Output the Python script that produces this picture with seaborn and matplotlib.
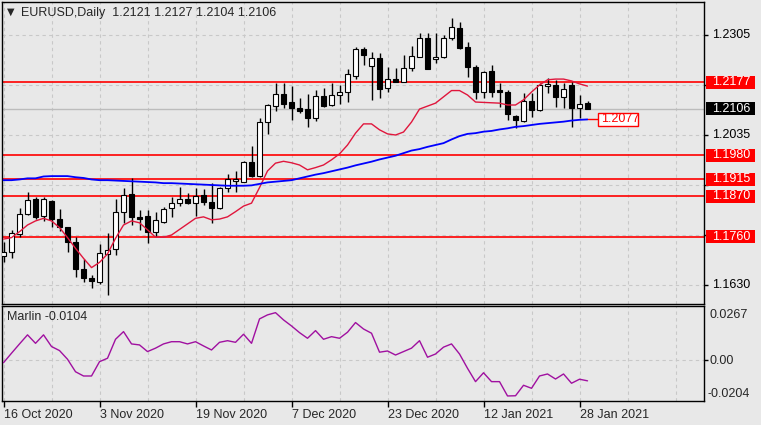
import matplotlib
matplotlib.use('Agg')
import matplotlib.pyplot as plt
import matplotlib.transforms as mtransforms
from matplotlib.patches import Rectangle
import seaborn as sns
import pandas as pd

# daily EURUSD bars, 16 Oct 2020 .. 29 Jan 2021
opens = [1.1708, 1.1718, 1.1768, 1.1821, 1.1862, 1.1817, 1.1857, 1.1807, 1.1786, 1.1747,
         1.1672, 1.1649, 1.1639, 1.1713, 1.1726, 1.1826, 1.1876, 1.1813, 1.1816, 1.1774,
         1.1801, 1.1837, 1.1851, 1.1862, 1.1852, 1.1873, 1.1853, 1.1837, 1.1891, 1.1912,
         1.1909, 1.1961, 1.1925, 1.2069, 1.2114, 1.2145, 1.2125, 1.2107, 1.2104, 1.2080,
         1.2140, 1.2116, 1.2143, 1.2150, 1.2195, 1.2267, 1.2222, 1.2242, 1.2161, 1.2185,
         1.2179, 1.2215, 1.2246, 1.2296, 1.2239, 1.2246, 1.2296, 1.2323, 1.2272, 1.2218,
         1.2150, 1.2209, 1.2157, 1.2152, 1.2086, 1.2074, 1.2128, 1.2103, 1.2167, 1.2170,
         1.2138, 1.2170, 1.2107, 1.2121]
highs = [1.1747, 1.1779, 1.1839, 1.1880, 1.1868, 1.1867, 1.1860, 1.1834, 1.1787, 1.1759,
         1.1699, 1.1658, 1.1740, 1.1771, 1.1861, 1.1893, 1.1918, 1.1832, 1.1832, 1.1828,
         1.1841, 1.1868, 1.1894, 1.1878, 1.1891, 1.1888, 1.1905, 1.1895, 1.1930, 1.1939,
         1.1965, 1.2005, 1.2080, 1.2119, 1.2176, 1.2175, 1.2167, 1.2134, 1.2145, 1.2157,
         1.2161, 1.2175, 1.2170, 1.2213, 1.2273, 1.2273, 1.2259, 1.2256, 1.2219, 1.2215,
         1.2251, 1.2276, 1.2311, 1.2310, 1.2310, 1.2305, 1.2352, 1.2339, 1.2287, 1.2224,
         1.2209, 1.2224, 1.2176, 1.2157, 1.2089, 1.2148, 1.2148, 1.2175, 1.2188, 1.2184,
         1.2176, 1.2179, 1.2143, 1.2127]
lows = [1.1693, 1.1702, 1.1760, 1.1819, 1.1807, 1.1804, 1.1787, 1.1777, 1.1720, 1.1651,
        1.1639, 1.1621, 1.1632, 1.1603, 1.1711, 1.1797, 1.1792, 1.1779, 1.1744, 1.1762,
        1.1797, 1.1814, 1.1843, 1.1849, 1.1816, 1.1846, 1.1797, 1.1834, 1.1882, 1.1882,
        1.1907, 1.1922, 1.1922, 1.2038, 1.2100, 1.2109, 1.2076, 1.2095, 1.2057, 1.2074,
        1.2110, 1.2113, 1.2119, 1.2125, 1.2186, 1.2224, 1.2130, 1.2134, 1.2152, 1.2177,
        1.2178, 1.2209, 1.2245, 1.2212, 1.2229, 1.2244, 1.2291, 1.2266, 1.2192, 1.2132,
        1.2136, 1.2137, 1.2111, 1.2076, 1.2053, 1.2071, 1.2084, 1.2101, 1.2148, 1.2111,
        1.2107, 1.2057, 1.2080, 1.2104]
closes = [1.1718, 1.1770, 1.1821, 1.1860, 1.1814, 1.1862, 1.1807, 1.1786, 1.1745, 1.1672,
          1.1648, 1.1640, 1.1716, 1.1725, 1.1826, 1.1873, 1.1813, 1.1809, 1.1774, 1.1806,
          1.1834, 1.1852, 1.1861, 1.1852, 1.1871, 1.1853, 1.1839, 1.1891, 1.1915, 1.1915,
          1.1961, 1.1925, 1.2069, 1.2116, 1.2145, 1.2119, 1.2109, 1.2100, 1.2080, 1.2140,
          1.2113, 1.2143, 1.2150, 1.2200, 1.2267, 1.2251, 1.2242, 1.2159, 1.2185, 1.2179,
          1.2215, 1.2248, 1.2296, 1.2213, 1.2246, 1.2296, 1.2326, 1.2269, 1.2218, 1.2150,
          1.2205, 1.2150, 1.2152, 1.2091, 1.2076, 1.2128, 1.2103, 1.2170, 1.2173, 1.2137,
          1.2159, 1.2107, 1.2119, 1.2106]

ma_fast = [1.1754, 1.1758, 1.1774, 1.1792, 1.1803, 1.1810, 1.1803, 1.1785, 1.1758, 1.1729,
           1.1702, 1.1677, 1.1691, 1.1714, 1.1756, 1.1792, 1.1803, 1.1798, 1.1779, 1.1759,
           1.1759, 1.1765, 1.1780, 1.1795, 1.1810, 1.1814, 1.1806, 1.1808, 1.1814, 1.1828,
           1.1843, 1.1851, 1.1893, 1.1938, 1.1959, 1.1964, 1.1960, 1.1954, 1.1941, 1.1947,
           1.1954, 1.1968, 1.1984, 1.2008, 1.2040, 1.2065, 1.2065, 1.2049, 1.2038, 1.2035,
           1.2043, 1.2070, 1.2105, 1.2113, 1.2121, 1.2138, 1.2155, 1.2155, 1.2143, 1.2124,
           1.2123, 1.2122, 1.2121, 1.2116, 1.2116, 1.2130, 1.2151, 1.2170, 1.2184, 1.2186,
           1.2186, 1.2181, 1.2173, 1.2167]
ma_slow = [1.1913, 1.1913, 1.1915, 1.1918, 1.1918, 1.1923, 1.1924, 1.1924, 1.1924, 1.1921,
           1.1919, 1.1915, 1.1913, 1.1913, 1.1912, 1.1911, 1.1910, 1.1909, 1.1908, 1.1907,
           1.1905, 1.1905, 1.1904, 1.1903, 1.1902, 1.1901, 1.1900, 1.1899, 1.1898, 1.1898,
           1.1898, 1.1899, 1.1903, 1.1907, 1.1909, 1.1911, 1.1913, 1.1918, 1.1923, 1.1928,
           1.1932, 1.1937, 1.1942, 1.1947, 1.1953, 1.1958, 1.1963, 1.1969, 1.1974, 1.1979,
           1.1986, 1.1993, 1.1997, 1.2003, 1.2008, 1.2013, 1.2023, 1.2032, 1.2038, 1.2040,
           1.2044, 1.2046, 1.2050, 1.2053, 1.2057, 1.2059, 1.2062, 1.2065, 1.2067, 1.2069,
           1.2071, 1.2074, 1.2076, 1.2077]
marlin = [-0.0014, 0.0033, 0.0079, 0.0124, 0.0082, 0.0124, 0.0066, 0.0046, 0.0003, -0.0059,
          -0.0080, -0.0080, -0.0009, 0.0008, 0.0102, 0.0140, 0.0079, 0.0074, 0.0041, 0.0058,
          0.0079, 0.0090, 0.0090, 0.0079, 0.0090, 0.0069, 0.0049, 0.0087, 0.0095, 0.0087,
          0.0127, 0.0082, 0.0203, 0.0223, 0.0234, 0.0198, 0.0168, 0.0135, 0.0107, 0.0145,
          0.0102, 0.0115, 0.0107, 0.0137, 0.0185, 0.0153, 0.0132, 0.0038, 0.0044, 0.0024,
          0.0041, 0.0058, 0.0095, 0.0013, 0.0029, 0.0063, 0.0079, 0.0029, -0.0042, -0.0108,
          -0.0064, -0.0108, -0.0108, -0.0179, -0.0178, -0.0126, -0.0141, -0.0080, -0.0070, -0.0095,
          -0.0070, -0.0116, -0.0096, -0.0104]

levels = [1.2177, 1.1980, 1.1915, 1.1870, 1.1760]
price_grid = [1.2305, 1.2170, 1.2035, 1.1900, 1.1765, 1.1630]
price_labels = [1.2305, 1.2035, 1.1630]
date_pos = [0, 12, 24, 36, 48, 60, 72]
date_labels = ['16 Oct 2020', '3 Nov 2020', '19 Nov 2020', '7 Dec 2020',
               '23 Dec 2020', '12 Jan 2021', '28 Jan 2021']

sns.set_style('white')
plt.rcParams['font.family'] = ['Liberation Sans', 'DejaVu Sans']
plt.rcParams['font.size'] = 9

W, H = 761, 425
bg = '#e8e8e8'
gridc = '#c8c8c8'
fig = plt.figure(figsize=(W / 100, H / 100), dpi=100, facecolor=bg)
ax = fig.add_axes([2 / W, (H - 304) / H, 702 / W, 302 / H], facecolor=bg)
ax2 = fig.add_axes([2 / W, (H - 401) / H, 702 / W, 95 / H], facecolor=bg)

n = len(closes)
bars = pd.DataFrame({'i': range(n), 'open': opens, 'high': highs, 'low': lows,
                     'close': closes, 'ma_fast': ma_fast, 'ma_slow': ma_slow,
                     'marlin': marlin})

ymin, ymax = 1.15787, 1.23941
ppx = (ymax - ymin) / 302
xmin, xmax = -0.19, 87.56

for a in (ax, ax2):
    for gx in range(0, 88, 6):
        a.axvline(gx, color=gridc, ls=(0, (3, 3)), lw=0.8, zorder=0)
    for s in a.spines.values():
        s.set_color('black')
        s.set_linewidth(1)
for gy in price_grid:
    ax.axhline(gy, color=gridc, ls=(0, (3, 3)), lw=0.8, zorder=0)
ax2.axhline(0, color=gridc, ls=(0, (3, 3)), lw=0.8, zorder=0)

ax.axhline(closes[-1], color='#bcbcbc', lw=1, zorder=1)
for lv in levels:
    ax.axhline(lv, color='red', lw=1.2, zorder=2)

# candles
ax.vlines(bars['i'], bars['low'], bars['high'], color='black', lw=1, zorder=3)
bull = bars['close'] >= bars['open']
body = (bars['close'] - bars['open']).abs().clip(lower=ppx)
bottom = bars[['open', 'close']].min(axis=1)
ax.bar(bars['i'], body, bottom=bottom, width=0.62,
       color=['white' if b else 'black' for b in bull],
       edgecolor='black', linewidth=0.8, zorder=4)

sns.lineplot(data=bars, x='i', y='ma_fast', ax=ax, color='#e0163c', lw=1, zorder=5)
sns.lineplot(data=bars, x='i', y='ma_slow', ax=ax, color='#0000ff', lw=1.3, zorder=5)
sns.lineplot(data=bars, x='i', y='marlin', ax=ax2, color='#a010a0', lw=1, zorder=5)

ax.set_xlim(xmin, xmax)
ax.set_ylim(ymin, ymax)
ax2.set_xlim(xmin, xmax)
ax2.set_ylim(-0.0204, 0.0267)
for a in (ax, ax2):
    a.set_xlabel('')
    a.set_ylabel('')

ax.tick_params(axis='x', bottom=False, labelbottom=False)
ax.yaxis.tick_right()
ax.set_yticks(price_grid)
ax.tick_params(axis='y', right=True, left=False, labelright=False, length=3,
               width=1, color='black')

ax2.set_xticks(date_pos)
ax2.set_xticklabels(date_labels, ha='left')
ax2.tick_params(axis='x', bottom=True, length=4, width=1, color='black', pad=2,
                labelsize=9)
ax2.yaxis.tick_right()
ax2.set_yticks([0.0])
ax2.tick_params(axis='y', right=True, left=False, labelright=False, length=3,
                width=1, color='black')

# right price scale labels
tr = mtransforms.blended_transform_factory(fig.transFigure, ax.transData)
for p in price_labels:
    fig.text(712 / W, p, f'{p:.4f}', transform=tr, va='center', ha='left',
             color='black')
for lv in levels:
    fig.add_artist(Rectangle((706 / W, lv - 6.5 * ppx), 49 / W, 13 * ppx,
                             transform=tr, facecolor='red', edgecolor='none'))
    fig.text(712 / W, lv, f'{lv:.4f}', transform=tr, va='center', ha='left',
             color='white')
fig.add_artist(Rectangle((706 / W, closes[-1] - 6.5 * ppx), 49 / W, 13 * ppx,
                         transform=tr, facecolor='black', edgecolor='none'))
fig.text(712 / W, closes[-1], f'{closes[-1]:.4f}', transform=tr, va='center',
         ha='left', color='white')

# moving average value tag
last_ma = ma_slow[-1]
ax.plot([n - 1, 74.3], [last_ma, last_ma], color='red', lw=1, zorder=5)
fig.add_artist(Rectangle((598 / W, last_ma - 6.7 * ppx), 40 / W, 13.4 * ppx,
                         transform=tr, facecolor='white', edgecolor='red', lw=1))
fig.text(601 / W, last_ma, f'{last_ma:.4f}', transform=tr, va='center',
         ha='left', color='red')

# indicator scale labels
fig.text(709 / W, 1 - 315 / H, '0.0267', va='center', ha='left')
fig.text(709 / W, 1 - 360.5 / H, '0.00', va='center', ha='left')
fig.text(708 / W, 1 - 394 / H, '-0.0204', va='center', ha='left')

# headers
fig.text(10.5 / W, 1 - 12 / H, '\u25bc', fontsize=7, family='DejaVu Sans',
         ha='center', va='center')
fig.text(21 / W, 1 - 13 / H, 'EURUSD,Daily  1.2121 1.2127 1.2104 1.2106',
         va='center', ha='left')
fig.text(7 / W, 1 - 317.5 / H, f'Marlin {marlin[-1]:.4f}', va='center', ha='left')

fig.savefig('out.png', dpi=100, facecolor=bg)
